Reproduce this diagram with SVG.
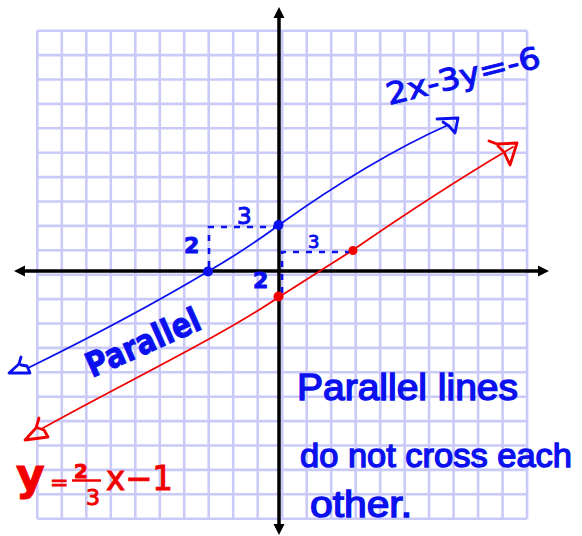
<svg xmlns="http://www.w3.org/2000/svg" width="582" height="536" viewBox="0 0 582 536">
<defs>
<style>
.grid{stroke:#cacaf8;stroke-width:2.6;fill:none}
.axis{stroke:#000;stroke-width:3.5;fill:none}
.blue{stroke:#0a10ee;stroke-width:1.8;fill:none;stroke-linecap:round;stroke-linejoin:round}
.red{stroke:#f20000;stroke-width:1.8;fill:none;stroke-linecap:round;stroke-linejoin:round}
.bhead{stroke:#0a10ee;stroke-width:2.8;fill:none;stroke-linejoin:round;stroke-linecap:round}
.rhead{stroke:#f20000;stroke-width:2.8;fill:none;stroke-linejoin:round;stroke-linecap:round}
.dash{stroke:#0a10ee;stroke-width:2.6;fill:none;stroke-dasharray:6 7}
.bt{fill:#0a10ee;stroke:#0a10ee;stroke-width:1;font-family:"DejaVu Sans","Liberation Sans",sans-serif}
.bp{fill:#0a10ee;stroke:#0a10ee;stroke-width:1.4;font-family:"Liberation Sans",Arial,sans-serif}
.rt{fill:#f20000;stroke:#f20000;stroke-width:1;font-family:"DejaVu Sans","Liberation Sans",sans-serif}
</style>
</defs>
<rect width="582" height="536" fill="#fff"/>
<g id="grid" class="grid">
<path d="M37.3 30.7V518.7M61.8 30.7V518.7M86.3 30.7V518.7M110.8 30.7V518.7M135.3 30.7V518.7M159.8 30.7V518.7M184.2 30.7V518.7M208.7 30.7V518.7M233.2 30.7V518.7M257.7 30.7V518.7M282.2 30.7V518.7M306.7 30.7V518.7M331.2 30.7V518.7M355.7 30.7V518.7M380.2 30.7V518.7M404.7 30.7V518.7M429.1 30.7V518.7M453.6 30.7V518.7M478.1 30.7V518.7M502.6 30.7V518.7M527.1 30.7V518.7"/>
<path d="M37.3 30.7H527.1M37.3 55.1H527.1M37.3 79.5H527.1M37.3 103.9H527.1M37.3 128.3H527.1M37.3 152.7H527.1M37.3 177.1H527.1M37.3 201.5H527.1M37.3 225.9H527.1M37.3 250.3H527.1M37.3 274.7H527.1M37.3 299.1H527.1M37.3 323.5H527.1M37.3 347.9H527.1M37.3 372.3H527.1M37.3 396.7H527.1M37.3 421.1H527.1M37.3 445.5H527.1M37.3 469.9H527.1M37.3 494.3H527.1M37.3 518.7H527.1"/>
</g>
<g id="axes">
<path class="axis" d="M279 16V528M22 271H540"/>
<path d="M279 7L273.5 18H284.5Z M279 535L273.5 524H284.5Z M14 271L25 265.5V276.5Z M549 271L538 265.5V276.5Z" fill="#000"/>
</g>
<g id="connectors">
<g id="blue-line">
<path class="blue" d="M28 368Q130 318 208 271.5Q245 250 279 225Q370 160 448 125"/>
<path class="bhead" d="M21 357L19 364L9 373L30 373L27 366L21 365"/>
<path class="bhead" d="M437 119L458 118L455 133L449 126L443 122"/>
<path class="dash" d="M209 267V227H275"/>
</g>
<g id="red-line">
<path class="red" d="M43 428C120 385 220 337 279 297L353 250Q440 190 513 147"/>
<path class="rhead" d="M39 418L36 428L25 440L48 437L44 430L38 428"/>
<path class="rhead" d="M489 141L497 144L517 143L510 165L504 152L498 146"/>
<path class="dash" d="M282 293V252H349"/>
</g>
</g>
<g id="points">
<circle cx="208" cy="271.5" r="5" fill="#0a10ee"/>
<circle cx="278.5" cy="225" r="5" fill="#0a10ee"/>
<circle cx="278.5" cy="296.5" r="5" fill="#f20000"/>
<circle cx="353" cy="250.5" r="4.5" fill="#f20000"/>
</g>
<g id="labels">
<text class="bt" x="237" y="224" font-size="23">3</text>
<text class="bt" x="184" y="253" font-size="22" font-weight="bold">2</text>
<text class="bt" x="308" y="248" font-size="18">3</text>
<text class="bt" x="253" y="288" font-size="22" font-weight="bold">2</text>
<text class="bt" font-size="30" transform="translate(389 105) rotate(-14)" textLength="158" lengthAdjust="spacingAndGlyphs">2x-3y=-6</text>
<text class="bt" font-size="34" font-weight="bold" transform="translate(92 378) rotate(-24)" textLength="122" lengthAdjust="spacingAndGlyphs">Parallel</text>
<text class="bp" x="297" y="400" font-size="36" textLength="221" lengthAdjust="spacingAndGlyphs">Parallel lines</text>
<text class="bp" x="300" y="467" font-size="34" textLength="272" lengthAdjust="spacingAndGlyphs">do not cross each</text>
<text class="bp" x="310" y="517" font-size="36" textLength="102" lengthAdjust="spacingAndGlyphs">other.</text>
<g id="red-equation">
<text class="rt" x="16" y="490" font-size="44" font-weight="bold">y</text>
<text class="rt" x="50" y="490" font-size="22">=</text>
<text class="rt" x="74" y="478" font-size="20" font-weight="bold">2</text>
<path d="M72 480.5H101" stroke="#f20000" stroke-width="2.5"/>
<text class="rt" x="86" y="505" font-size="22">3</text>
<text class="rt" x="106" y="490" font-size="34" textLength="67" lengthAdjust="spacingAndGlyphs">x−1</text>
</g>
</g>
</svg>
